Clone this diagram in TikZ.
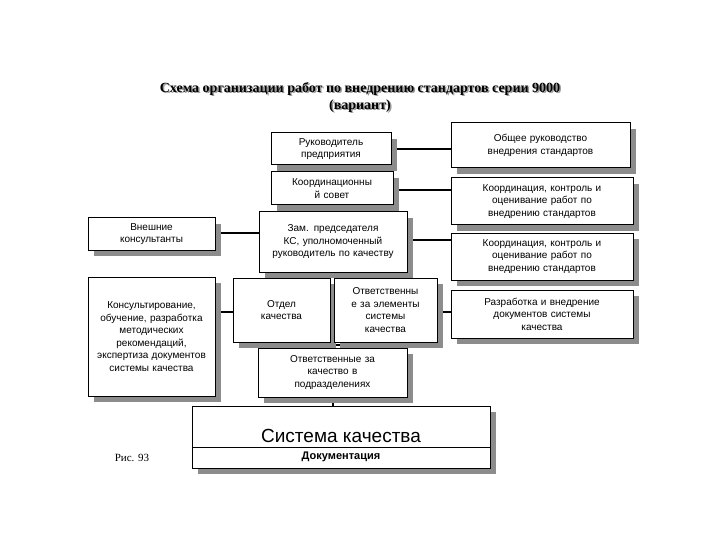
\documentclass[tikz,border=0pt]{standalone}
\usepackage{fontspec}
\setmainfont{Liberation Sans}
\newfontfamily\serif{Liberation Serif}
\begin{document}
\begin{tikzpicture}[x=1pt,y=-1pt,
  bx/.style={draw=black,fill=white,line width=1pt,align=center,inner sep=0pt,
    font=\fontsize{10}{12.5}\selectfont},
  ln/.style={line width=1.2pt}]
\fill[white] (0,0) rectangle (720,540);
\useasboundingbox (0,0) rectangle (720,540);
\newcommand\shbox[6]{%
  \fill[black!45] (#2+6,#3+6) rectangle (#4+6,#5+6);
  \pgfmathsetmacro\bw{#4-#2}\pgfmathsetmacro\bh{#5-#3}\pgfmathsetmacro\tw{#4-#2-6}%
  \node[bx,minimum width=\bw pt,minimum height=\bh pt,text width=\tw pt] (#1) at ({(#2+#4)/2},{(#3+#5)/2}) {#6};}
% title
\node[font=\serif\fontsize{14}{17}\selectfont\bfseries,text=black!40,align=center] at (361.5,98.5) {Схема организации работ по внедрению стандартов серии 9000\\(вариант)};
\node (title) [font=\serif\fontsize{14}{17}\selectfont\bfseries,align=center] at (360,97) {Схема организации работ по внедрению стандартов серии 9000\\(вариант)};
% connectors
\draw[ln] (331,149) -- (451,149);
\draw[ln] (331,190) -- (451,190);
\draw[ln] (331,240) -- (451,240);
\draw[ln] (380,312) -- (451,312);
\draw[ln] (150,233) -- (300,233);
\draw[ln] (150,312) -- (280,312);
\draw[ln] (331,140) -- (331,220);
\draw[ln] (299,265) -- (299,275) -- (373,275) -- (373,265);
\draw[ln] (299,335) -- (299,345) -- (373,345) -- (373,335);
\draw[ln] (333,345) -- (333,410);
% boxes
\shbox{ruk}{271}{133}{391}{165}{Руководитель\\предприятия}
\shbox{ks}{271}{172}{393}{205}{Координационны\\й совет}
\shbox{zam}{259}{212}{407}{272}{Зам. председателя КС, уполномоченный руководитель по качеству}
\shbox{vn}{88}{218}{215}{250}{Внешние\\консультанты}
\shbox{kons}{88}{277}{215}{396}{Консультирование, обучение, разработка методических рекомендаций, экспертиза документов системы качества}
\shbox{otd}{233}{278}{330}{342}{Отдел\\качества}
\shbox{otv}{334}{278}{437}{342}{Ответственны\\е за элементы\\системы\\качества}
\shbox{otvp}{258}{348}{407}{397}{Ответственные за\\качество в\\подразделениях}
\shbox{r1}{451}{123}{630}{168}{Общее руководство\\внедрения стандартов}
\shbox{r2}{451}{178}{633}{225}{Координация, контроль и\\оценивание работ по\\внедрению стандартов}
\shbox{r3}{451}{233}{633}{280}{Координация, контроль и\\оценивание работ по\\внедрению стандартов}
\shbox{r4}{451}{290}{633}{338}{Разработка и внедрение\\документов системы\\качества}
% system box
\fill[black!45] (198,412) rectangle (496,474);
\draw[fill=white,line width=1pt] (192,406) rectangle (490,468);
\draw[line width=1pt] (192,447) -- (490,447);
\node (sys) [font=\fontsize{19}{22}\selectfont] at (341,436) {Система качества};
\node (doc) [font=\fontsize{11}{13}\selectfont\bfseries] at (341,457) {Документация};
\node (fig) [font=\serif\fontsize{11}{13}\selectfont] at (132,458) {Рис. 93};
\end{tikzpicture}
\end{document}
